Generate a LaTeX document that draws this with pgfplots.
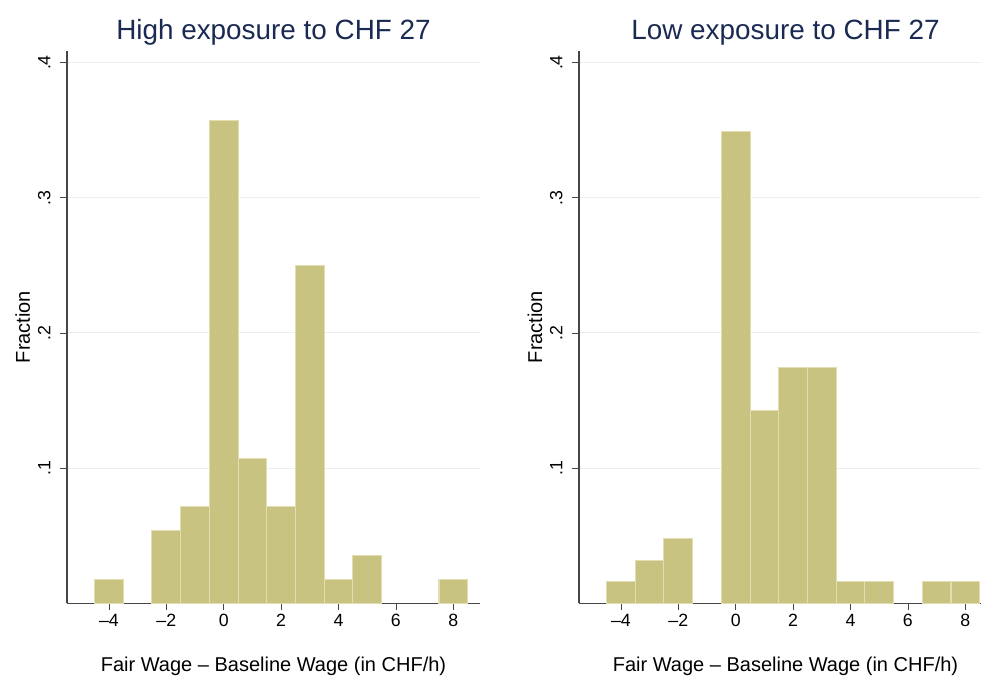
\documentclass[border=0pt]{standalone}
\usepackage{pgfplots}
\pgfplotsset{compat=1.18}
\usepackage{fontspec}
\setmainfont{Liberation Sans}
\definecolor{barfill}{RGB}{201,195,130}
\definecolor{baredge}{RGB}{226,222,178}
\definecolor{titlecol}{RGB}{26,42,82}
\definecolor{gridcol}{RGB}{232,240,242}
\definecolor{axcol}{RGB}{70,70,70}
\pgfplotsset{
  histo/.style={
    scale only axis, width=309.75pt, height=414.4pt,
    anchor=south west,
    xmin=-5.46, xmax=8.93, ymin=0, ymax=0.4087,
    axis lines*=left,
    axis line style={color=axcol, line width=0.8pt},
    tick align=outside, major tick length=5pt,
    tick style={color=axcol, line width=0.6pt},
    xtick={-4,-2,0,2,4,6,8},
    xticklabels={–4,–2,0,2,4,6,8},
    ytick={0.1,0.2,0.3,0.4},
    yticklabels={.1,.2,.3,.4},
    ymajorgrids, grid style={color=gridcol, line width=0.8pt},
    ticklabel style={font=\fontsize{13.3}{15}\selectfont},
    xticklabel style={anchor=north, inner sep=0pt},
    xticklabel shift=3.2pt,
    yticklabel style={rotate=90, anchor=base, inner sep=0pt},
    yticklabel shift=7.5pt,
    every axis title/.style={at={(axis description cs:0.5,1.0207)}, anchor=base,
      font=\fontsize{20.9}{25}\selectfont, color=titlecol},
    every axis x label/.style={at={(axis description cs:0.5,-0.1239)}, anchor=base,
      font=\fontsize{15}{18}\selectfont},
    every axis y label/.style={at={(axis description cs:-0.0896,0.5)}, rotate=90, anchor=base,
      font=\fontsize{15}{18}\selectfont},
    xlabel={Fair Wage – Baseline Wage (in CHF/h)},
    ylabel={Fraction},
    ybar, bar width=1, bar shift=0pt,
  },
  barsty/.style={fill=barfill, draw=baredge, line width=0.8pt},
}
\begin{document}
\begin{tikzpicture}
\useasboundingbox (0,0) rectangle (735.75pt,507pt);
\begin{axis}[histo, at={(50.25pt,54.5pt)}, title={High exposure to CHF 27}]
\addplot[barsty] coordinates {
  (-4,0.017857) (-2,0.053571) (-1,0.071429) (0,0.357143) (1,0.107143)
  (2,0.071429) (3,0.25) (4,0.017857) (5,0.035714) (8,0.017857)};
\end{axis}
\begin{axis}[histo, at={(434.25pt,54.5pt)}, title={Low exposure to CHF 27}]
\addplot[barsty] coordinates {
  (-4,0.015873) (-3,0.031746) (-2,0.047619) (0,0.349206) (1,0.142857)
  (2,0.174603) (3,0.174603) (4,0.015873) (5,0.015873) (7,0.015873) (8,0.015873)};
\end{axis}
\end{tikzpicture}
\end{document}
